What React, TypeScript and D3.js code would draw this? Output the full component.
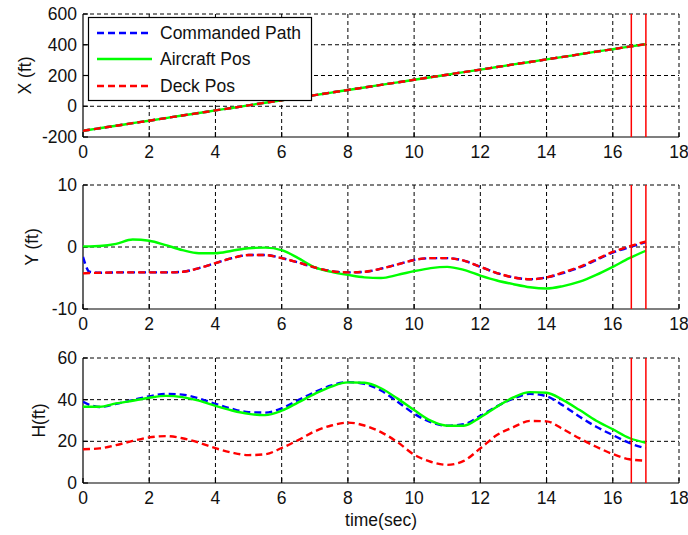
import * as d3 from "d3";

// time samples (sec)
const T = [0, 0.2, 0.5, 1, 1.5, 2, 2.5, 3, 3.5, 4, 4.5, 5, 5.5, 6, 6.5, 7, 7.5, 8, 8.5, 9, 9.5, 10, 10.5, 11, 11.5, 12, 12.5, 13, 13.5, 14, 14.5, 15, 15.5, 16, 16.5, 17];

// X (ft)
const xCmd = [-160, -153, -143, -127, -110, -94, -77, -60, -44, -27, -11, 6, 23, 39, 56, 72, 89, 106, 122, 139, 155, 172, 189, 205, 222, 238, 255, 272, 288, 305, 321, 338, 355, 371, 388, 404];
const xAircraft = [-160, -153, -143, -127, -110, -94, -77, -60, -44, -27, -11, 6, 23, 39, 56, 72, 89, 106, 122, 139, 155, 172, 189, 205, 222, 238, 255, 272, 288, 305, 321, 338, 355, 371, 388, 404];
const xDeck = [-160, -153, -143, -127, -110, -94, -77, -60, -44, -27, -11, 6, 23, 39, 56, 72, 89, 106, 122, 139, 155, 172, 189, 205, 222, 238, 255, 272, 288, 305, 321, 338, 355, 371, 388, 404];

// Y (ft)
const yCmd = [-1.6, -4.0, -4.15, -4.1, -4.1, -4.1, -4.1, -4.0, -3.4, -2.6, -1.8, -1.3, -1.3, -1.8, -2.5, -3.3, -3.9, -4.1, -4.0, -3.5, -2.8, -2.1, -1.8, -1.8, -2.2, -3.2, -4.2, -4.9, -5.2, -4.9, -4.2, -3.3, -2.1, -0.9, -0.05, 0.8];
const yAircraft = [0.1, 0.1, 0.15, 0.5, 1.2, 1.0, 0.3, -0.5, -1.0, -1.0, -0.6, -0.2, -0.1, -0.5, -1.8, -3.3, -4.0, -4.5, -4.9, -5.0, -4.5, -3.9, -3.4, -3.2, -3.7, -4.6, -5.4, -6.0, -6.5, -6.7, -6.3, -5.6, -4.5, -3.2, -1.8, -0.6];
const yDeck = [-4.25, -4.2, -4.15, -4.1, -4.1, -4.1, -4.1, -4.0, -3.4, -2.6, -1.8, -1.3, -1.3, -1.8, -2.5, -3.3, -3.9, -4.1, -4.0, -3.5, -2.8, -2.1, -1.8, -1.8, -2.2, -3.2, -4.2, -4.9, -5.2, -4.9, -4.1, -3.2, -2.0, -0.8, 0.1, 0.9];

// H (ft)
const hCmd = [39.0, 37.5, 36.5, 38.0, 39.8, 41.6, 42.8, 42.4, 40.6, 38.0, 35.6, 34.0, 33.8, 35.8, 39.8, 43.6, 46.8, 48.4, 47.6, 44.4, 39.0, 33.3, 29.2, 27.5, 28.2, 32.2, 36.8, 40.6, 42.8, 41.6, 37.2, 31.8, 27.0, 23.0, 19.2, 16.6];
const hAircraft = [36.6, 36.6, 36.6, 38.2, 39.5, 40.9, 41.8, 41.2, 39.5, 37.0, 34.8, 33.2, 32.6, 34.7, 38.7, 42.8, 46.3, 48.3, 48.1, 45.5, 40.5, 35.0, 29.9, 27.5, 27.5, 31.5, 36.6, 41.1, 43.6, 43.3, 39.8, 35.0, 29.9, 25.8, 21.6, 19.3];
const hDeck = [16.2, 16.3, 16.6, 18.2, 20.2, 21.9, 22.5, 21.5, 19.4, 16.7, 14.6, 13.4, 13.8, 16.8, 20.6, 24.8, 27.6, 29.0, 27.6, 24.4, 19.6, 13.6, 10.2, 8.7, 10.6, 16.6, 23.0, 26.8, 29.8, 29.6, 25.8, 21.4, 17.4, 13.9, 11.4, 10.7];

const markerTimes = [16.56, 17.0];
const timeTicks = [0, 2, 4, 6, 8, 10, 12, 14, 16, 18];
const xTicks = [-200, 0, 200, 400, 600];
const yTicks = [-10, 0, 10];
const hTicks = [0, 20, 40, 60];

const seriesNames = ["Commanded Path", "Aircraft Pos", "Deck Pos"];
const seriesColors = ["#0000ff", "#00ff00", "#ff0000"];
const seriesDash = ["7,4", null, "7,4"];

const W = 688;
const H = 535;
const left = 83;
const right = 679;
const font = "'Liberation Sans', Arial, sans-serif";
const fs = 17.5;

const panels = [
  { label: "X (ft)", ticks: xTicks, top: 14, bottom: 137, labelX: 31, data: [xCmd, xAircraft, xDeck] },
  { label: "Y (ft)", ticks: yTicks, top: 185, bottom: 309, labelX: 38, data: [yCmd, yAircraft, yDeck] },
  { label: "H(ft)", ticks: hTicks, top: 358, bottom: 483, labelX: 45, data: [hCmd, hAircraft, hDeck] },
];

const x = d3.scaleLinear().domain([0, 18]).range([left, right]);

function Panel({ p, idx }: { p: any; idx: number }) {
  const y = d3
    .scaleLinear()
    .domain(d3.extent(p.ticks) as [number, number])
    .range([p.bottom, p.top]);
  const line = (vals: number[]) =>
    d3
      .line<number>()
      .x((_, i) => x(T[i]))
      .y((v) => y(v))
      .curve(d3.curveMonotoneX)(vals) || "";
  return (
    <g>
      <defs>
        <clipPath id={"clip" + idx}>
          <rect x={left} y={p.top} width={right - left} height={p.bottom - p.top} />
        </clipPath>
      </defs>
      {/* grid */}
      {timeTicks.slice(1).map((t) => (
        <line key={"gx" + t} x1={x(t)} x2={x(t)} y1={p.top} y2={p.bottom} stroke="#000" strokeWidth={1} strokeDasharray="4,3" />
      ))}
      {p.ticks.slice(1).map((v: number) => (
        <line key={"gy" + v} x1={left} x2={right} y1={y(v)} y2={y(v)} stroke="#000" strokeWidth={1} strokeDasharray="4,3" />
      ))}
      {/* axes */}
      <line x1={left} x2={left} y1={p.top} y2={p.bottom} stroke="#000" strokeWidth={1.2} />
      <line x1={left} x2={right} y1={p.bottom} y2={p.bottom} stroke="#000" strokeWidth={1.2} />
      {timeTicks.map((t) => (
        <g key={"tx" + t}>
          <line x1={x(t)} x2={x(t)} y1={p.bottom} y2={p.bottom - 5} stroke="#000" strokeWidth={1.2} />
          <text x={x(t)} y={p.bottom + 21} textAnchor="middle" fontSize={fs} fontFamily={font} fill="#111">
            {t}
          </text>
        </g>
      ))}
      {p.ticks.map((v: number) => (
        <g key={"ty" + v}>
          <line x1={left} x2={left + 5} y1={y(v)} y2={y(v)} stroke="#000" strokeWidth={1.2} />
          <text x={left - 6} y={y(v)} dy="0.35em" textAnchor="end" fontSize={fs} fontFamily={font} fill="#111">
            {v}
          </text>
        </g>
      ))}
      <text
        transform={`translate(${p.labelX},${(p.top + p.bottom) / 2}) rotate(-90)`}
        textAnchor="middle"
        fontSize={fs}
        fontFamily={font}
        fill="#111"
      >
        {p.label}
      </text>
      {/* series */}
      <g clipPath={`url(#clip${idx})`}>
        {p.data.map((vals: number[], i: number) => (
          <path
            key={i}
            d={line(vals)}
            fill="none"
            stroke={seriesColors[i]}
            strokeWidth={2.4}
            strokeDasharray={seriesDash[i] || undefined}
          />
        ))}
      </g>
      {markerTimes.map((t) => (
        <line key={"m" + t} x1={x(t)} x2={x(t)} y1={p.top} y2={p.bottom} stroke="#ff0000" strokeWidth={1.5} />
      ))}
    </g>
  );
}

export default function App() {
  return (
    <svg width={W} height={H} style={{ position: "absolute", left: 0, top: 0, background: "#fff" }}>
      <rect width={W} height={H} fill="#fff" />
      {panels.map((p, i) => (
        <Panel key={i} p={p} idx={i} />
      ))}
      {/* legend */}
      <g>
        <rect x={88.5} y={17.5} width={223} height={83} fill="#fff" stroke="#000" strokeWidth={1.2} />
        {seriesNames.map((name, i) => {
          const yy = [33, 59, 86][i];
          return (
            <g key={name}>
              <line x1={97} x2={152} y1={yy} y2={yy} stroke={seriesColors[i]} strokeWidth={2.4} strokeDasharray={seriesDash[i] || undefined} />
              <text x={160} y={yy} dy="0.35em" fontSize={fs} fontFamily={font} fill="#111">
                {name}
              </text>
            </g>
          );
        })}
      </g>
      <text x={(left + right) / 2} y={526} textAnchor="middle" fontSize={fs} fontFamily={font} fill="#111">
        time(sec)
      </text>
    </svg>
  );
}
